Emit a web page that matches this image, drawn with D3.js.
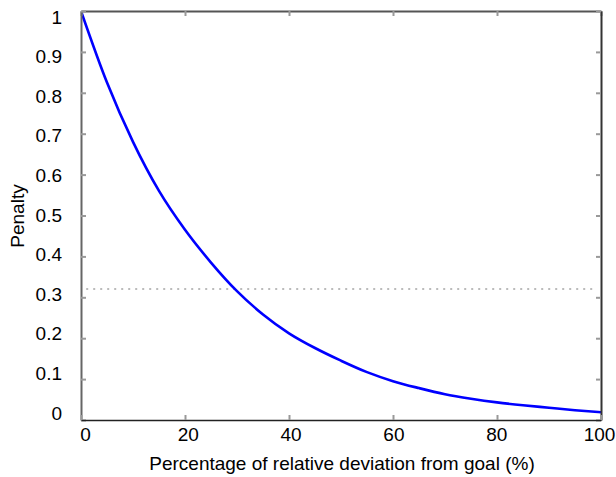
<!DOCTYPE html>
<html>
<head>
<meta charset="utf-8">
<script src="https://cdn.jsdelivr.net/npm/d3@7"></script>
<style>
  body { margin: 0; background: #fff; }
  text { font-family: "Liberation Sans", Arial, sans-serif; }
</style>
</head>
<body>
<div id="chart"></div>
<script>
// values
var deviation = [0, 5, 10, 15, 20, 25, 30, 35, 40, 45, 50, 55, 60, 65, 70, 75, 80, 85, 90, 95, 100]
var penalty = [1.0, 0.825, 0.68, 0.56, 0.465, 0.385, 0.315, 0.258, 0.212, 0.176, 0.145,
               0.117, 0.095, 0.078, 0.063, 0.052, 0.043, 0.036, 0.030, 0.024, 0.019]
var xTicks = [0, 20, 40, 60, 80, 100]
var yTicks = [0, 0.1, 0.2, 0.3, 0.4, 0.5, 0.6, 0.7, 0.8, 0.9, 1]
var threshold = 0.32
var thresholdRange = [1, 99]
var xTitle = "Percentage of relative deviation from goal (%)"
var yTitle = "Penalty"

var W = 616, H = 477
var margin = { left: 81, right: 601, top: 11, bottom: 420 }
var fontSize = 19

var svg = d3.select("#chart").append("svg")
    .attr("width", W)
    .attr("height", H)

var x = d3.scaleLinear().domain([0, 100]).range([margin.left, margin.right])
var y = d3.scaleLinear().domain([0, 1]).range([margin.bottom, margin.top])
// tick labels sit slightly off their ticks in the original
var xLab = d3.scaleLinear().domain([0, 100]).range([85, 599])
var yLab = d3.scaleLinear().domain([0, 1]).range([413, 17])

svg.append("defs").append("clipPath").attr("id", "plot")
    .append("rect")
    .attr("x", margin.left).attr("y", margin.top)
    .attr("width", margin.right - margin.left).attr("height", margin.bottom - margin.top)

// threshold
svg.append("line")
    .attr("x1", x(thresholdRange[0]))
    .attr("x2", x(thresholdRange[1]))
    .attr("y1", y(threshold))
    .attr("y2", y(threshold))
    .attr("stroke", "#bbb")
    .attr("stroke-width", 2)
    .attr("stroke-dasharray", "2,5")

// curve
var data = deviation.map(function(d, i) { return { x: d, y: penalty[i] } })
var line = d3.line()
    .x(function(d) { return x(d.x) })
    .y(function(d) { return y(d.y) })
    .curve(d3.curveMonotoneX)

svg.append("path")
    .datum(data)
    .attr("clip-path", "url(#plot)")
    .attr("fill", "none")
    .attr("stroke", "#0000ff")
    .attr("stroke-width", 2.6)
    .attr("d", line)

// tick marks on all four sides, pointing inward
function styleAxis(g, col, w) {
    g.selectAll(".tick text").remove()
    g.selectAll(".tick line").attr("stroke", "#999").attr("stroke-width", 2)
    g.select(".domain").attr("stroke", col).attr("stroke-width", w)
}

svg.append("g")
    .attr("transform", "translate(0," + margin.top + ")")
    .call(d3.axisTop(x).tickValues(xTicks).tickSizeInner(-5).tickSizeOuter(0))
    .call(styleAxis, "#555", 2)

svg.append("g")
    .attr("transform", "translate(" + margin.right + ",0)")
    .call(d3.axisRight(y).tickValues(yTicks).tickSizeInner(-5).tickSizeOuter(0))
    .call(styleAxis, "#333", 2)

svg.append("g")
    .attr("transform", "translate(" + margin.left + ",0)")
    .call(d3.axisLeft(y).tickValues(yTicks).tickSizeInner(-5).tickSizeOuter(0))
    .call(styleAxis, "#666", 2)

svg.append("g")
    .attr("transform", "translate(0," + margin.bottom + ")")
    .call(d3.axisBottom(x).tickValues(xTicks).tickSizeInner(-5).tickSizeOuter(0))
    .call(styleAxis, "#222", 1.6)

// tick labels
var yl = svg.append("g")
    .attr("transform", "translate(62,0)")
    .call(d3.axisLeft(yLab).tickValues(yTicks).tickSize(0).tickPadding(0).tickFormat(d3.format("~g")))
yl.select(".domain").remove()
yl.selectAll("text").attr("font-size", fontSize).attr("fill", "#000")
    .attr("font-family", "Liberation Sans, Arial, sans-serif")

var xl = svg.append("g")
    .attr("transform", "translate(0,427)")
    .call(d3.axisBottom(xLab).tickValues(xTicks).tickSize(0).tickPadding(0).tickFormat(d3.format("~g")))
xl.select(".domain").remove()
xl.selectAll("text").attr("font-size", fontSize).attr("fill", "#000")
    .attr("font-family", "Liberation Sans, Arial, sans-serif")

// titles
svg.append("text")
    .attr("x", 342)
    .attr("y", 470)
    .attr("text-anchor", "middle")
    .attr("font-size", fontSize)
    .text(xTitle)

svg.append("text")
    .attr("transform", "translate(24,216) rotate(-90)")
    .attr("text-anchor", "middle")
    .attr("font-size", fontSize)
    .text(yTitle)
</script>
</body>
</html>
